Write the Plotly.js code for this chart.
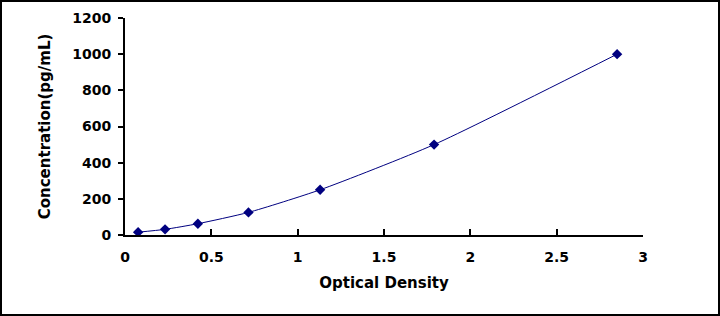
<!DOCTYPE html>
<html><head><meta charset="utf-8">
<script src="https://cdn.plot.ly/plotly-3.0.1.min.js"></script>
<style>
html,body{margin:0;padding:0;background:#fff;}
#wrap{position:relative;width:720px;height:316px;}
#chart{width:720px;height:316px;}
#frame{position:absolute;left:0;top:0;width:720px;height:316px;box-sizing:border-box;border:2px solid #000;pointer-events:none;}
</style></head>
<body>
<div id="wrap"><div id="chart"></div><div id="frame"></div></div>
<script>
const opticalDensity = [0.076, 0.232, 0.422, 0.715, 1.13, 1.79, 2.85];
const concentration = [15.6, 31.25, 62.5, 125, 250, 500, 1000];
const xTitle = "Optical Density";
const yTitle = "Concentration(pg/mL)";

const fontFam = "DejaVu Sans, Verdana, sans-serif";
const trace = {
  x: opticalDensity, y: concentration, type: 'scatter', mode: 'lines+markers',
  line: {color: '#000080', width: 1, shape: 'spline', smoothing: 0.6},
  marker: {symbol: 'diamond', size: 8, color: '#000080'},
  hoverinfo: 'none'
};
const layout = {
  width: 720, height: 316,
  margin: {l: 125, r: 77, t: 18, b: 81},
  paper_bgcolor: '#fff', plot_bgcolor: '#fff',
  showlegend: false,
  font: {family: fontFam, color: '#000'},
  xaxis: {
    range: [0, 3], dtick: 0.5, tick0: 0, showgrid: false, zeroline: false,
    showline: true, linecolor: '#000', linewidth: 2,
    ticks: 'inside', ticklen: 6, tickwidth: 2, tickcolor: '#000',
    ticklabelstandoff: 8,
    tickfont: {family: fontFam, size: 14, color: '#000', weight: 'bold'},
    title: {text: xTitle, font: {family: fontFam, size: 15, color: '#000', weight: 'bold'}, standoff: 14}
  },
  yaxis: {
    range: [0, 1200], dtick: 200, tick0: 0, showgrid: false, zeroline: false,
    showline: true, linecolor: '#000', linewidth: 2,
    ticks: 'outside', ticklen: 5, tickwidth: 2, tickcolor: '#000',
    ticklabelstandoff: 4,
    tickfont: {family: fontFam, size: 14, color: '#000', weight: 'bold'},
    title: {text: yTitle, font: {family: fontFam, size: 15, color: '#000', weight: 'bold'}, standoff: 18}
  }
};
Plotly.newPlot('chart', [trace], layout, {staticPlot: true, displayModeBar: false});
</script>
</body></html>
